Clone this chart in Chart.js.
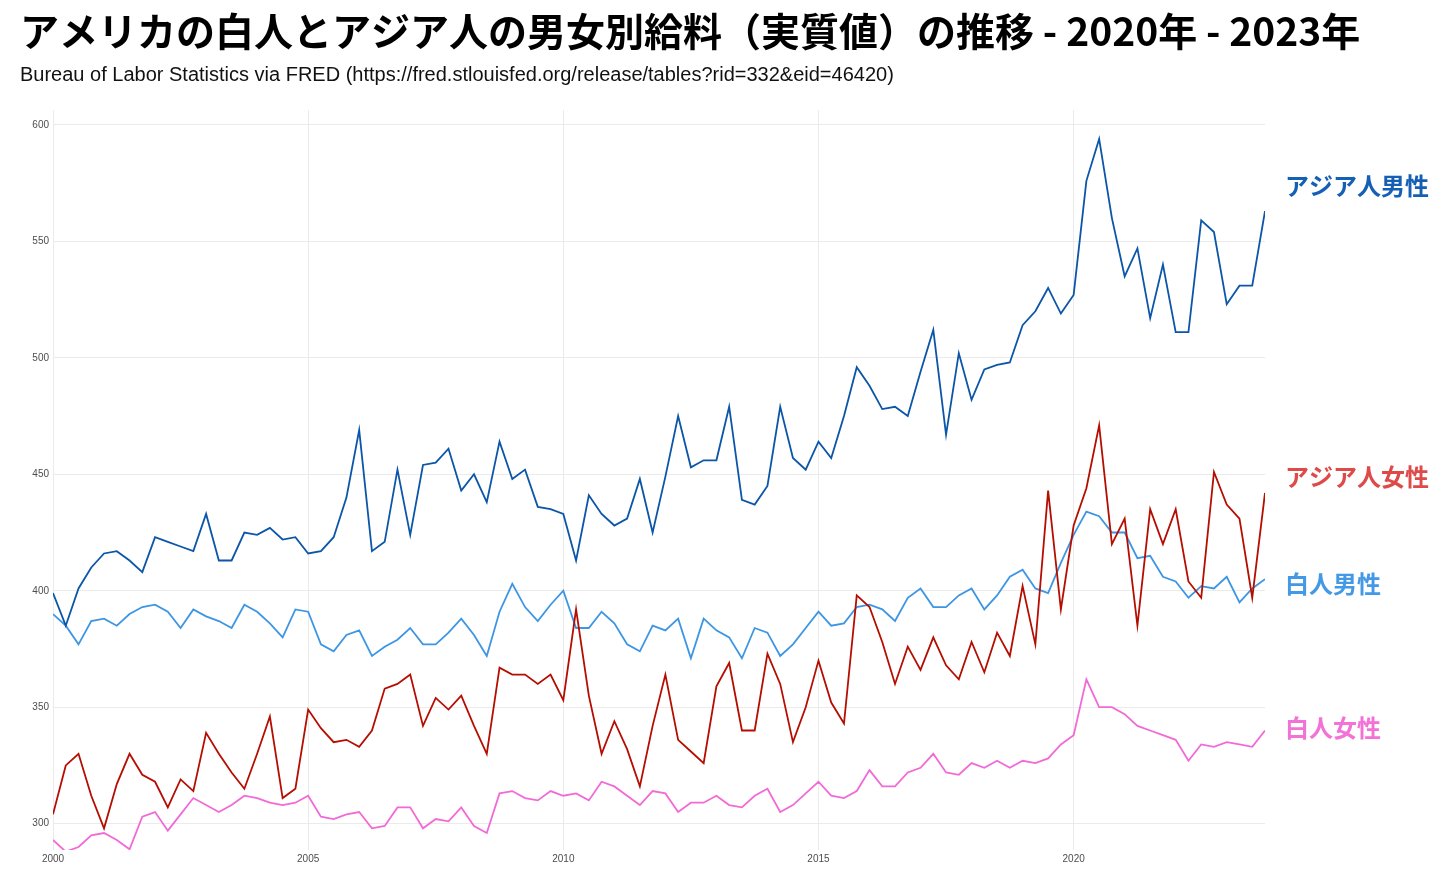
<!DOCTYPE html>
<html>
<head>
<meta charset="utf-8">
<script src="https://cdn.jsdelivr.net/npm/chart.js@4.4.1/dist/chart.umd.min.js"></script>
<style>
  html, body { margin: 0; padding: 0; background: #fff; }
  #wrap { width: 1456px; height: 884px; }
</style>
</head>
<body>
<div id="wrap"><canvas id="myChart"></canvas></div>
<script>
// quarterly, 2000 Q1 .. 2023 Q4
var startYear = 2000;
var quarters = [];
for (var i = 0; i < 96; i++) quarters.push(startYear + i / 4);

var xTicks = [2000, 2005, 2010, 2015, 2020];
var yTicks = [300, 350, 400, 450, 500, 550, 600];

var asianMen = [
  399, 385, 401, 410, 416, 417, 413, 408, 423, 421, 419, 417,
  433, 413, 413, 425, 424, 427, 422, 423, 416, 417, 423, 440,
  469, 417, 421, 452, 424, 454, 455, 461, 443, 450, 438, 464,
  448, 452, 436, 435, 433, 413, 441, 433, 428, 431, 448, 425,
  449, 475, 453, 456, 456, 479, 439, 437, 445, 479, 457, 452,
  464, 457, 475, 496, 488, 478, 479, 475, 494, 512, 467, 502,
  482, 495, 497, 498, 514, 520, 530, 519, 527, 576, 594, 560,
  535, 547, 517, 540, 511, 511, 559, 554, 523, 531, 531, 563
];
var asianWomen = [
  304, 325, 330, 312, 298, 317, 330, 321, 318, 307, 319, 314,
  339, 330, 322, 315, 330, 346, 311, 315, 349, 341, 335, 336,
  333, 340, 358, 360, 364, 342, 354, 349, 355, 342, 330, 367,
  364, 364, 360, 364, 353, 392, 355, 330, 344, 332, 316, 342,
  364, 336, 331, 326, 359, 369, 340, 340, 373, 360, 335, 350,
  370, 352, 343, 398, 393, 378, 360, 376, 366, 380, 368, 362,
  378, 365, 382, 372, 402, 377, 443, 392, 428, 444, 471, 420,
  431, 385, 435, 420, 435, 404, 397, 451, 437, 431, 397, 442
];
var whiteMen = [
  390, 385, 377, 387, 388, 385, 390, 393, 394, 391, 384, 392,
  389, 387, 384, 394, 391, 386, 380, 392, 391, 377, 374, 381,
  383, 372, 376, 379, 384, 377, 377, 382, 388, 381, 372, 391,
  403, 393, 387, 394, 400, 384, 384, 391, 386, 377, 374, 385,
  383, 388, 371, 388, 383, 380, 371, 384, 382, 372, 377, 384,
  391, 385, 386, 393, 394, 392, 387, 397, 401, 393, 393, 398,
  401, 392, 398, 406, 409, 401, 399, 412, 424, 434, 432, 425,
  425, 414, 415, 406, 404, 397, 402, 401, 406, 395, 401, 405
];
var whiteWomen = [
  293, 288, 290, 295, 296, 293, 289, 303, 305, 297, 304, 311,
  308, 305, 308, 312, 311, 309, 308, 309, 312, 303, 302, 304,
  305, 298, 299, 307, 307, 298, 302, 301, 307, 299, 296, 313,
  314, 311, 310, 314, 312, 313, 310, 318, 316, 312, 308, 314,
  313, 305, 309, 309, 312, 308, 307, 312, 315, 305, 308, 313,
  318, 312, 311, 314, 323, 316, 316, 322, 324, 330, 322, 321,
  326, 324, 327, 324, 327, 326, 328, 334, 338, 362, 350, 350,
  347, 342, 340, 338, 336, 327, 334, 333, 335, 334, 333, 340
];

function toPoints(values) {
  return values.map(function (v, i) { return { x: quarters[i], y: v }; });
}

// names written at the right edge of the plot
const endLabels = {
  id: 'endLabels',
  afterDatasetsDraw(chart) {
    const ctx = chart.ctx;
    const y = chart.scales.y;
    ctx.save();
    ctx.font = 'bold 24px "Noto Sans CJK JP"';
    ctx.textBaseline = 'middle';
    ctx.textAlign = 'left';
    chart.data.datasets.forEach(function (ds) {
      ctx.fillStyle = ds.labelColor;
      ctx.fillText(ds.label, chart.chartArea.right + 20, y.getPixelForValue(ds.labelValue));
    });
    ctx.restore();
  }
};

new Chart(document.getElementById('myChart'), {
  type: 'line',
  data: {
    datasets: [
      { label: 'アジア人男性', data: toPoints(asianMen), borderColor: '#0b56a8', labelColor: '#1560b5', labelValue: 574 },
      { label: 'アジア人女性', data: toPoints(asianWomen), borderColor: '#b50d00', labelColor: '#dd4a48', labelValue: 449 },
      { label: '白人男性', data: toPoints(whiteMen), borderColor: '#3d96e3', labelColor: '#4499e6', labelValue: 403 },
      { label: '白人女性', data: toPoints(whiteWomen), borderColor: '#f26ad6', labelColor: '#f272d6', labelValue: 341 }
    ]
  },
  plugins: [endLabels],
  options: {
    responsive: true,
    maintainAspectRatio: false,
    animation: false,
    elements: {
      line: { borderWidth: 1.8, tension: 0 },
      point: { radius: 0 }
    },
    layout: { padding: { left: 20, right: 20, top: 0, bottom: 10 } },
    plugins: {
      legend: { display: false },
      tooltip: { enabled: false },
      title: {
        display: true,
        text: 'アメリカの白人とアジア人の男女別給料（実質値）の推移 - 2020年 - 2023年',
        align: 'start',
        color: '#000',
        font: { family: '"Noto Sans CJK JP"', size: 39, weight: 'bold', lineHeight: 1.2 },
        padding: { top: 8, bottom: 0 }
      },
      subtitle: {
        display: true,
        text: 'Bureau of Labor Statistics via FRED (https://fred.stlouisfed.org/release/tables?rid=332&eid=46420)',
        align: 'start',
        color: '#111',
        font: { family: '"Liberation Sans", Arial, sans-serif', size: 20, lineHeight: 1.2 },
        padding: { top: 9, bottom: 22.2 }
      }
    },
    scales: {
      x: {
        type: 'linear',
        min: 2000,
        max: 2023.75,
        afterBuildTicks: function (scale) {
          scale.ticks = xTicks.map(function (v) { return { value: v }; });
        },
        afterFit: function (scale) { scale.height = 24; },
        ticks: {
          padding: 3,
          color: '#4d4d4d',
          font: { family: '"Liberation Sans", Arial, sans-serif', size: 10 },
          callback: function (v) { return String(v); }
        },
        grid: { color: '#ebebeb', lineWidth: 1, drawTicks: false },
        border: { display: false }
      },
      y: {
        min: 288.7,
        max: 606.4,
        afterBuildTicks: function (scale) {
          scale.ticks = yTicks.map(function (v) { return { value: v }; });
        },
        afterFit: function (scale) { scale.width = 33; },
        ticks: {
          padding: 4,
          color: '#4d4d4d',
          font: { family: '"Liberation Sans", Arial, sans-serif', size: 10 }
        },
        grid: { color: '#ebebeb', lineWidth: 1, drawTicks: false },
        border: { display: false }
      },
      // empty strip on the right that holds the series names
      labelSpace: {
        type: 'linear',
        position: 'right',
        min: 288.7,
        max: 606.4,
        afterFit: function (scale) { scale.width = 171; },
        ticks: { display: false },
        grid: { display: false },
        border: { display: false }
      }
    }
  }
});
</script>
</body>
</html>
